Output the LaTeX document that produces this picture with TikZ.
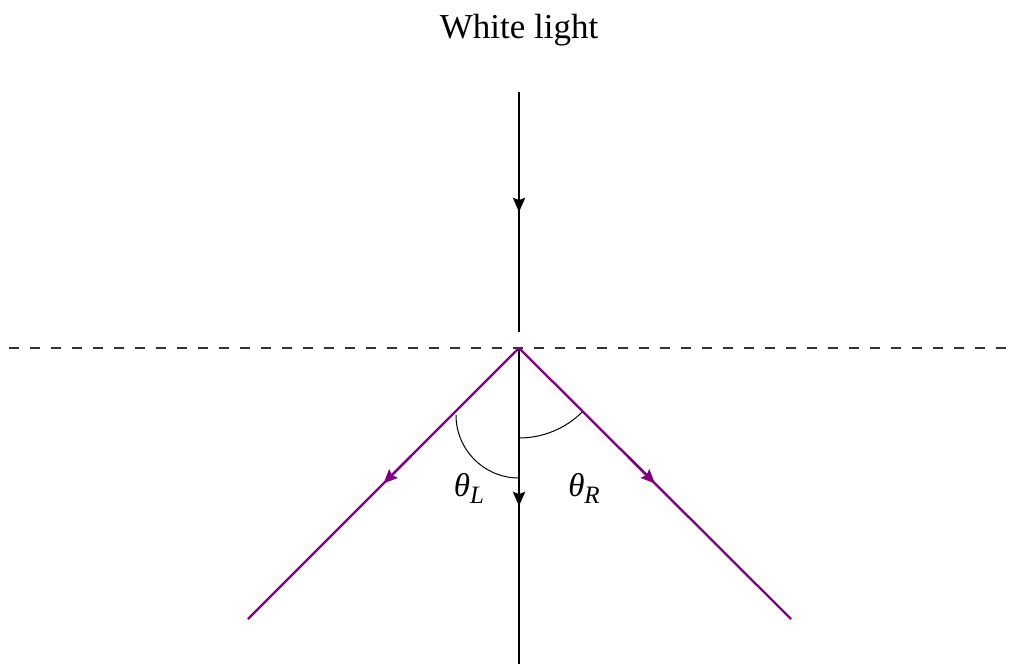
\documentclass[tikz,border=0pt]{standalone}
\usepackage{fontspec}
\setmainfont{Liberation Serif}
\usetikzlibrary{arrows.meta,calc}
\definecolor{raypurple}{RGB}{128,0,128}
\definecolor{dashgray}{RGB}{50,50,50}
\tikzset{
  tiparrow/.style={-{Stealth[length=14pt,width=12pt,inset=2pt]}},
  whiteray/.style={line width=2.6pt,black},
  colorray/.style={line width=2.3pt,raypurple},
  anglearc/.style={line width=1pt,black},
  surface/.style={line width=1.4pt,dashgray,dash pattern=on 10pt off 11pt},
  lbl/.style={font=\fontsize{33}{36}\selectfont,inner sep=0pt}
}
\newcommand{\angsub}[1]{\raisebox{-7pt}{\fontsize{25}{28}\selectfont\textit{#1}}}
\begin{document}
\begin{tikzpicture}[x=1pt,y=-1pt]
\useasboundingbox (0,0) rectangle (1023,664);
\node[lbl,font=\fontsize{35}{40}\selectfont] (title) at (519,30) {White light};
\coordinate (top) at (519,92);
\coordinate (gap) at (519,332);
\coordinate (O) at (519,348);
\coordinate (bottom) at (519,664);
\coordinate (dl) at (9,348);
\coordinate (dr) at (1015,348);
\coordinate (L) at (248,619);
\coordinate (R) at (791,619);
\draw[surface] (dl) -- (dr);
\draw[whiteray] (top) -- (gap);
\draw[whiteray,tiparrow] ($(top)!0.4!(gap)$) -- ($(top)!0.5!(gap)$);
\draw[whiteray] (O) -- (bottom);
\draw[whiteray,tiparrow] ($(O)!0.4!(bottom)$) -- ($(O)!0.5!(bottom)$);
\draw[colorray] (O) -- (L);
\draw[colorray,tiparrow] ($(O)!0.4!(L)$) -- ($(O)!0.5!(L)$);
\draw[colorray] (O) -- (R);
\draw[colorray,tiparrow] ($(O)!0.4!(R)$) -- ($(O)!0.5!(R)$);
\coordinate (arcLs) at (456,415);
\draw[anglearc] (arcLs) arc[start angle=180,end angle=90,radius=63];
\coordinate (arcRs) at (519,438);
\draw[anglearc] (arcRs) arc[start angle=90,end angle=45,radius=90];
\node[lbl] (thL) at (469,488) {\textit{θ}\angsub{L}};
\node[lbl] (thR) at (584,488) {\textit{θ}\angsub{R}};
\end{tikzpicture}
\end{document}
